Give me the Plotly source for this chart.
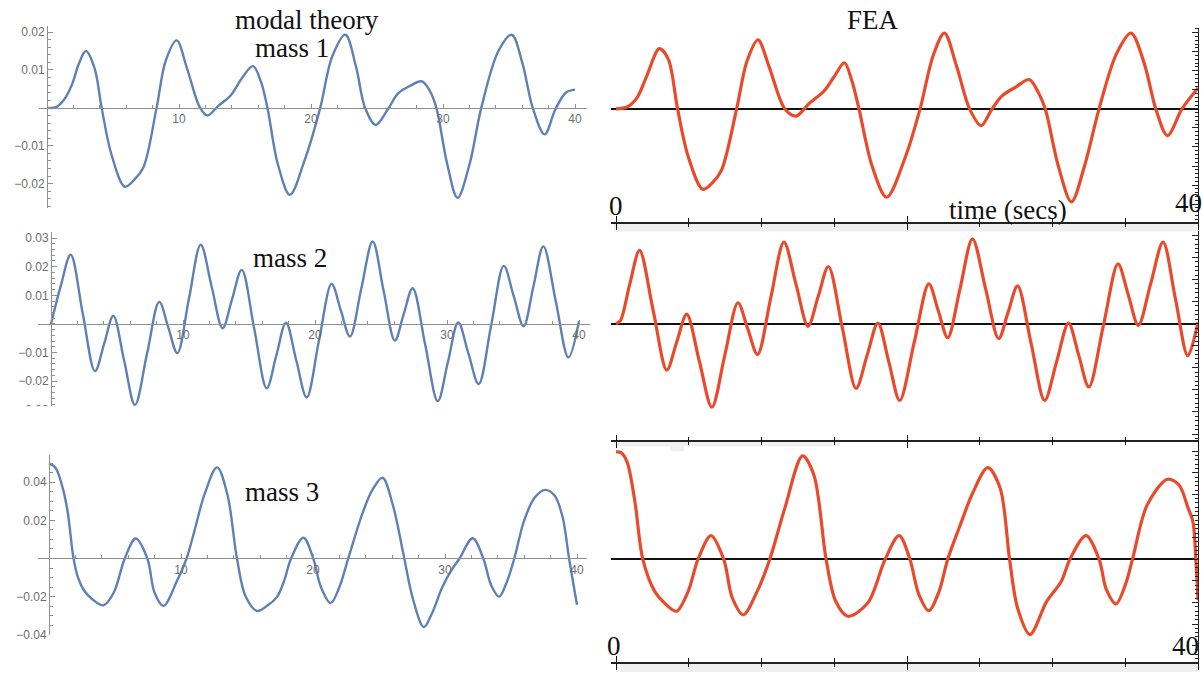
import plotly.graph_objects as go

# ---------------- modal theory (left column) ----------------
t_mass1 = [0, 0.7, 1.3, 1.9, 2.4, 2.95, 3.6, 4.14, 4.9, 5.9, 6.6, 7.3, 8.3, 9.0, 9.82, 10.6, 11.6,
           12.15, 13.0, 13.9, 14.8, 15.6, 16.2, 16.7, 17.5, 18.4, 19.5, 20.7, 21.6, 22.6, 23.4,
           24.1, 24.9, 25.8, 26.6, 27.5, 28.4, 29.0, 29.5, 30.3, 31.1, 32.0, 32.9, 34.2, 35.2,
           36.0, 36.8, 37.7, 38.5, 39.3, 40]
u_mass1 = [0, 0.0002, 0.0022, 0.0062, 0.0115, 0.0150, 0.0105, 0, -0.0125, -0.0208, -0.0190,
           -0.0157, 0, 0.0125, 0.0178, 0.0105, 0, -0.0020, 0.0006, 0.0032, 0.0080, 0.0110,
           0.0070, 0, -0.0150, -0.0229, -0.0140, 0, 0.0135, 0.0193, 0.0110, 0, -0.0045,
           -0.0005, 0.0038, 0.0058, 0.0070, 0.0045, 0, -0.0145, -0.0237, -0.0150, 0, 0.0150,
           0.0193, 0.0120, 0, -0.0070, -0.0005, 0.0040, 0.0048]

t_mass2 = [0, 0.75, 1.49, 2.41, 3.33, 4.03, 4.72, 5.54, 6.36, 7.28, 8.2, 8.89, 9.57, 10.45, 11.34,
           12.17, 13.0, 13.72, 14.45, 15.4, 16.34, 17.07, 17.8, 18.58, 19.37, 20.3, 21.26, 21.95,
           22.65, 23.5, 24.37, 25.2, 26.05, 26.72, 27.4, 28.35, 29.3, 30.07, 30.85, 31.62, 32.4,
           33.35, 34.3, 35.05, 35.8, 36.55, 37.3, 38.25, 39.2, 40]
u_mass2 = [0, 0.0135, 0.0242, 0.0035, -0.0165, -0.0069, 0.0028, -0.0128, -0.0283, -0.0103,
           0.0077, -0.0013, -0.0102, 0.0088, 0.0277, 0.0131, -0.0015, 0.0087, 0.0189, -0.0018,
           -0.0225, -0.0110, 0.0004, -0.0127, -0.0257, -0.0059, 0.0140, 0.0048, -0.0044, 0.0122,
           0.0288, 0.0115, -0.0058, 0.0034, 0.0125, -0.0073, -0.0270, -0.0133, 0.0005, -0.0103,
           -0.0210, -0.0004, 0.0203, 0.0098, -0.0008, 0.0132, 0.0271, 0.0077, -0.0117, 0.0010]

t_mass3 = [0, 0.5, 1.0, 1.41, 1.86, 2.2, 2.66, 3.3, 4.12, 4.9, 5.74, 6.57, 7.45, 8.0, 8.66, 9.71,
           10.42, 11.0, 11.8, 12.73, 13.5, 14.24, 14.9, 15.75, 16.5, 17.26, 17.8, 18.34, 19.27,
           20.02, 20.6, 21.34, 22.0, 22.67, 23.8, 24.5, 25.26, 26.05, 26.83, 27.6, 28.4, 29.0,
           29.8, 30.5, 31.1, 32.1, 32.9, 33.5, 34.1, 34.7, 35.25, 36.0, 36.8, 37.6, 38.3, 38.9,
           39.4, 40]
u_mass3 = [0.0499, 0.0475, 0.038, 0.0247, 0, -0.010, -0.0168, -0.0215, -0.0246, -0.018, 0,
           0.0105, 0, -0.018, -0.0249, -0.0116, 0, 0.014, 0.034, 0.0478, 0.034, 0, -0.020,
           -0.0275, -0.025, -0.0203, -0.012, 0, 0.0109, 0, -0.015, -0.0234, -0.015, 0, 0.0247,
           0.036, 0.0424, 0.028, 0.003, -0.022, -0.036, -0.029, -0.015, -0.006, 0, 0.0106, 0,
           -0.014, -0.020, -0.012, 0, 0.020, 0.032, 0.036, 0.033, 0.022, 0, -0.0243]

# ---------------- FEA (right column) ----------------
t_fea1 = [0, 0.76, 1.44, 2.11, 2.98, 3.6, 4.23, 4.96, 5.96, 6.6, 7.26, 8.29, 9.0, 9.76, 10.5,
          11.6, 12.36, 13.3, 14.3, 15.0, 15.7, 16.2, 16.7, 17.6, 18.6, 19.9, 20.9, 21.8, 22.57,
          23.4, 24.3, 25.1, 25.8, 26.5, 27.5, 28.4, 29.0, 29.5, 30.4, 31.3, 32.2, 33.2, 34.4,
          35.4, 36.3, 37.1, 37.9, 38.9, 40]
u_fea1 = [0, 0.0005, 0.0029, 0.0086, 0.0158, 0.013, 0, -0.0125, -0.0211, -0.0195, -0.016, 0,
          0.0125, 0.0181, 0.0113, 0, -0.0019, 0.0015, 0.0047, 0.0085, 0.0121, 0.0075, 0, -0.015,
          -0.0232, -0.0125, 0, 0.014, 0.0199, 0.0113, 0, -0.0044, -0.0003, 0.0033, 0.0058,
          0.0077, 0.0045, 0, -0.015, -0.0244, -0.015, 0, 0.0145, 0.0199, 0.012, 0, -0.007, 0,
          0.0055]

t_fea2 = [0, 0.3, 0.95, 1.62, 2.55, 3.49, 4.17, 4.86, 5.72, 6.59, 7.48, 8.38, 9.05, 9.73, 10.63,
          11.54, 12.37, 13.2, 13.9, 14.6, 15.55, 16.5, 17.25, 18.0, 18.75, 19.5, 20.5, 21.5,
          22.15, 22.8, 23.65, 24.5, 25.4, 26.3, 26.95, 27.6, 28.53, 29.46, 30.28, 31.1, 31.8,
          32.5, 33.5, 34.5, 35.2, 35.9, 36.75, 37.6, 38.45, 39.3, 40]
u_fea2 = [0, 0.0010, 0.0135, 0.0249, 0.0046, -0.0158, -0.0063, 0.0032, -0.0126, -0.0284,
          -0.0107, 0.0071, -0.0017, -0.0105, 0.0086, 0.0277, 0.0134, -0.0009, 0.0093, 0.0194,
          -0.0013, -0.0220, -0.0109, 0.0002, -0.0130, -0.0261, -0.0063, 0.0135, 0.0044,
          -0.0048, 0.0120, 0.0288, 0.0119, -0.0051, 0.0039, 0.0128, -0.0067, -0.0261, -0.0130,
          0.0002, -0.0107, -0.0215, -0.0006, 0.0203, 0.0099, -0.0006, 0.0136, 0.0277, 0.0084,
          -0.0109, 0.0005]

t_fea3 = [0, 0.35, 0.76, 1.3, 1.84, 2.66, 3.33, 4.15, 4.96, 5.64, 6.53, 7.4, 8.0, 8.75, 9.7,
          10.57, 11.6, 12.82, 13.6, 14.44, 15.1, 15.93, 17.3, 18.5, 19.46, 20.2, 20.8, 21.5,
          22.2, 22.8, 23.66, 24.5, 25.55, 26.4, 27.05, 27.6, 28.45, 29.6, 30.6, 31.2, 32.3,
          33.2, 33.7, 34.36, 35.0, 35.5, 36.5, 37.9, 38.7, 39.3, 39.65, 39.85, 40]
u_fea3 = [0.0496, 0.0493, 0.045, 0.0266, 0, -0.0149, -0.0203, -0.0241, -0.0149, 0, 0.0109, 0,
          -0.018, -0.0257, -0.0149, 0, 0.0235, 0.0478, 0.0389, 0, -0.0195, -0.0264, -0.0203, 0,
          0.0109, 0, -0.016, -0.0238, -0.015, 0, 0.0158, 0.0304, 0.0424, 0.0329, 0, -0.0226,
          -0.0349, -0.0195, -0.0103, 0, 0.0109, 0, -0.014, -0.0207, -0.012, 0, 0.025, 0.037,
          0.0343, 0.024, 0.0174, 0, -0.019]

# y tick labels for the modal-theory panels
yticks_mass1 = [-0.02, -0.01, 0.01, 0.02]
yticks_mass2 = [-0.03, -0.02, -0.01, 0.01, 0.02, 0.03]
yticks_mass3 = [-0.04, -0.02, 0.02, 0.04]
xticks_modal = [10, 20, 30, 40]

W, H = 1203, 679
BLUE = "#5E81B5"
RED = "#E84A2B"
AXIS_GRAY = "#8f8f8f"
LABEL_GRAY = "#6e6e6e"
SERIF = "Liberation Serif, DejaVu Serif, serif"
SANS = "Liberation Sans, Arial, sans-serif"


def fx(p):
    return p / W


def fy(p):
    return 1 - p / H


def fmt(v):
    s = f"{abs(v):.2f}"
    return ("\u2212" + s) if v < 0 else s


fig = go.Figure()

# left panels: (t=0 pixel, px per unit, x-domain px, y zero px, px per unit, y-domain px, minor y)
left = [
    (t_mass1, u_mass1, 47, 13.2, (39, 587), 109, 3830, (26, 210), yticks_mass1, 0.002),
    (t_mass2, u_mass2, 51, 13.2, (38, 590), 327.3, 2890, (234, 416), yticks_mass2, 0.002),
    (t_mass3, u_mass3, 49, 13.2, (38, 587), 564.3, 1925, (460, 642), yticks_mass3, 0.005),
]

layout = dict(
    width=W, height=H, margin=dict(l=0, r=0, t=0, b=0),
    paper_bgcolor="white", plot_bgcolor="white", showlegend=False,
)

for i, (t, u, x0p, sx, xd, y0p, sy, yd, yt, ymin) in enumerate(left, start=1):
    sfx = "" if i == 1 else str(i)
    fig.add_trace(go.Scatter(x=t, y=u, mode="lines", xaxis="x" + sfx, yaxis="y" + sfx,
                             line=dict(color=BLUE, width=2.4, shape="spline", smoothing=1.0),
                             hoverinfo="skip"))
    layout["xaxis" + sfx] = dict(
        domain=[fx(xd[0]), fx(xd[1])],
        range=[(xd[0] - x0p) / sx, (xd[1] - x0p) / sx],
        anchor="free", position=fy(y0p), side="bottom",
        showline=True, linecolor=AXIS_GRAY, linewidth=1,
        showgrid=False, zeroline=False,
        tickmode="array", tickvals=xticks_modal, ticktext=[str(v) for v in xticks_modal],
        ticks="inside", ticklen=4, tickcolor=AXIS_GRAY, tickwidth=1,
        minor=dict(tickmode="linear", tick0=0, dtick=2, ticks="inside", ticklen=3,
                   tickcolor=AXIS_GRAY, tickwidth=1),
        tickfont=dict(family=SANS, size=12, color=LABEL_GRAY),
    )
    layout["yaxis" + sfx] = dict(
        domain=[fy(yd[1]), fy(yd[0])],
        range=[(y0p - yd[1]) / sy, (y0p - yd[0]) / sy],
        anchor="free", position=fx(x0p), side="left",
        showline=True, linecolor=AXIS_GRAY, linewidth=1,
        showgrid=False, zeroline=False,
        tickmode="array", tickvals=yt, ticktext=[fmt(v) for v in yt],
        ticks="inside", ticklen=5, tickcolor=AXIS_GRAY, tickwidth=1,
        minor=dict(tickmode="linear", tick0=0, dtick=ymin, ticks="inside", ticklen=3,
                   tickcolor=AXIS_GRAY, tickwidth=1),
        tickfont=dict(family=SANS, size=12, color=LABEL_GRAY),
    )

# right panels: (y zero px, px per unit, y-domain px, major dtick, minor dtick)
RX0, RSX, RXD = 616, 14.55, (611, 1198)
right = [
    (t_fea1, u_fea1, 110, 3850, (28, 224), 0.005, 0.001),
    (t_fea2, u_fea2, 327, 2975, (233, 445), 0.0075, 0.0015),
    (t_fea3, u_fea3, 565, 2184, (452, 669), 0.01, 0.002),
]

for k, (t, u, y0p, sy, yd, dmaj, dmin) in enumerate(right):
    n = 4 + k
    ov = 7 + k
    fig.add_trace(go.Scatter(x=t, y=u, mode="lines", xaxis=f"x{n}", yaxis=f"y{n}",
                             line=dict(color=RED, width=3.2, shape="spline", smoothing=0.9),
                             hoverinfo="skip"))
    fig.add_trace(go.Scatter(x=[], y=[], mode="lines", xaxis=f"x{ov}", yaxis=f"y{n}",
                             hoverinfo="skip"))
    xr = [(RXD[0] - RX0) / RSX, (RXD[1] - RX0) / RSX]
    common_x = dict(domain=[fx(RXD[0]), fx(RXD[1])], range=xr, showgrid=False,
                    zeroline=False, showticklabels=False, tickmode="array",
                    tickvals=[0, 20, 40], tickcolor="#111", tickwidth=1.4)
    layout[f"xaxis{n}"] = dict(
        common_x, anchor=f"y{n}", side="bottom",
        showline=True, linecolor="#222", linewidth=1.6,
        ticks="inside", ticklen=6,
        minor=dict(tickmode="linear", tick0=0, dtick=5, ticks="inside", ticklen=4,
                   tickcolor="#111", tickwidth=1.4),
    )
    layout[f"xaxis{ov}"] = dict(
        common_x, anchor=f"y{n}", overlaying=f"x{n}", side="bottom",
        showline=False, ticks="outside", ticklen=7,
        minor=dict(tickmode="linear", tick0=0, dtick=5, ticks="outside", ticklen=4,
                   tickcolor="#111", tickwidth=1.4),
    )
    layout[f"yaxis{n}"] = dict(
        domain=[fy(yd[1]), fy(yd[0])],
        range=[(y0p - yd[1]) / sy, (y0p - yd[0]) / sy],
        anchor=f"x{n}", side="right",
        showline=True, linecolor="#222", linewidth=1.4,
        showgrid=False, showticklabels=False,
        zeroline=True, zerolinecolor="#111", zerolinewidth=1.5,
        tickmode="linear", tick0=0, dtick=dmaj,
        ticks="inside", ticklen=6, tickcolor="#222", tickwidth=1,
        minor=dict(tickmode="linear", tick0=0, dtick=dmin, ticks="inside", ticklen=3,
                   tickcolor="#222", tickwidth=1),
    )

fig.update_layout(**layout)

# light band under the FEA time axes, and the cropped lower edge of the mass 2 panel
bands = [(614, 1198, 225, 234), (614, 840, 446, 451), (670, 684, 449, 456), (620, 1198, 671, 679)]
shapes = [dict(type="rect", xref="paper", yref="paper", x0=fx(a), x1=fx(b), y0=fy(d), y1=fy(c),
               fillcolor="#efefef", line=dict(width=0), layer="below") for a, b, c, d in bands]
shapes.append(dict(type="rect", xref="paper", yref="paper", x0=0, x1=fx(62), y0=fy(432),
                   y1=fy(410.5), fillcolor="white", line=dict(width=0), layer="above"))
fig.update_layout(shapes=shapes)

texts = [
    ("modal theory", 307, 20, 27),
    ("mass 1", 292, 49, 27),
    ("mass 2", 290, 261, 27),
    ("mass 3", 282, 497, 27),
    ("FEA", 873, 20, 27),
    ("time (secs)", 1008, 212, 27),
    ("0", 616, 208, 27),
    ("40", 1188, 205, 27),
    ("0", 614, 653, 27),
    ("40", 1185, 653, 27),
]
for txt, x, y, size in texts:
    fig.add_annotation(text=txt, x=fx(x), y=fy(y), xref="paper", yref="paper",
                       showarrow=False, xanchor="center", yanchor="middle",
                       font=dict(family=SERIF, size=size, color="#111"))

fig.write_html("out.html")
